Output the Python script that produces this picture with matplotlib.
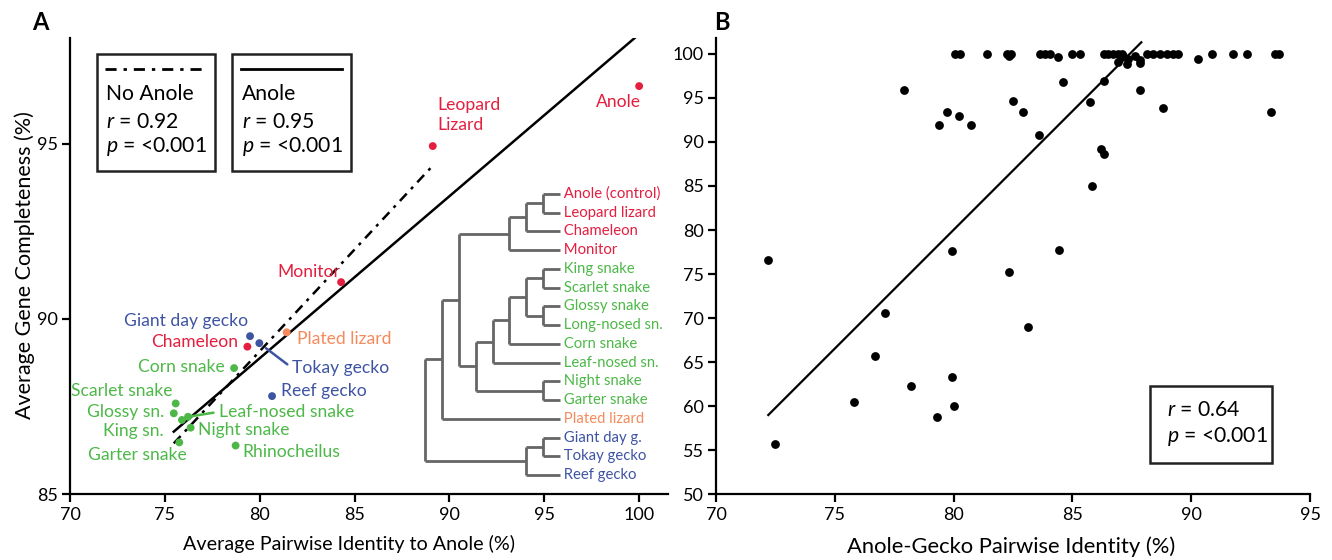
import numpy as np
import matplotlib.pyplot as plt
from matplotlib.patches import Rectangle

plt.rcParams['font.family'] = ['Lato', 'DejaVu Sans']
plt.rcParams['mathtext.fontset'] = 'custom'
plt.rcParams['mathtext.it'] = 'Lato:italic'
plt.rcParams['mathtext.rm'] = 'Lato'

RED = '#e31e3f'
GREEN = '#4db848'
BLUE = '#3e54a3'
ORANGE = '#f58a5c'
GREY = '#666666'
group_colors = {'lizard': RED, 'snake': GREEN, 'plated': ORANGE, 'gecko': BLUE}

# ---- panel A: completeness vs identity to anole
species = ['Anole', 'Leopard\nLizard', 'Monitor', 'Plated lizard', 'Giant day gecko',
           'Chameleon', 'Tokay gecko', 'Corn snake', 'Reef gecko', 'Scarlet snake',
           'Glossy sn.', 'King sn.', 'Leaf-nosed snake', 'Night snake', 'Garter snake',
           'Rhinocheilus']
identity = [100.0, 89.12, 84.29, 81.42, 79.49, 79.35, 79.98, 78.65, 80.65, 75.57,
            75.47, 75.90, 76.22, 76.36, 75.76, 78.73]
completeness = [96.64, 94.93, 91.05, 89.62, 89.51, 89.21, 89.31, 88.60, 87.80, 87.59,
                87.31, 87.12, 87.21, 86.90, 86.48, 86.39]
group = ['lizard', 'lizard', 'lizard', 'plated', 'gecko', 'lizard', 'gecko', 'snake',
         'gecko', 'snake', 'snake', 'snake', 'snake', 'snake', 'snake', 'snake']

# fitted lines (slope, intercept)
fit_anole = (0.462, 51.92)
fit_no_anole = (0.580, 42.68)

# cladogram
lizards = ((('Anole (control)', 'Leopard lizard'), 'Chameleon'), 'Monitor')
snakes = ((((('King snake', 'Scarlet snake'), ('Glossy snake', 'Long-nosed sn.')),
            'Corn snake'), 'Leaf-nosed sn.'), ('Night snake', 'Garter snake'))
geckos = (('Giant day g.', 'Tokay gecko'), 'Reef gecko')
tree = (((lizards, snakes), 'Plated lizard'), geckos)
tree_groups = {'lizard': ['Anole (control)', 'Leopard lizard', 'Chameleon', 'Monitor'],
               'plated': ['Plated lizard'],
               'gecko': ['Giant day g.', 'Tokay gecko', 'Reef gecko']}

# ---- panel B: anole-gecko identity vs completeness
gecko_identity = [72.20, 72.50, 75.80, 76.71, 77.10, 78.21, 79.32, 79.92, 79.92, 80.02,
                  82.34, 83.14, 84.43, 85.84, 77.92, 79.40, 79.71, 80.22, 80.72, 82.52,
                  82.91, 83.61, 84.62, 85.73, 86.34, 86.22, 86.34, 87.84, 88.83, 93.36,
                  80.06, 80.27, 81.40, 82.24, 82.41, 82.35, 83.64, 83.85, 84.06, 84.41,
                  84.98, 85.33, 86.31, 86.50, 86.70, 86.90, 87.10, 86.93, 87.15, 87.30,
                  87.36, 87.64, 87.84, 87.85, 88.13, 88.41, 88.69, 88.98, 89.25, 89.46,
                  90.27, 90.87, 91.78, 92.35, 93.54, 93.68]
gecko_completeness = [76.63, 55.71, 60.51, 65.73, 70.54, 62.29, 58.74, 77.65, 63.31, 60.02,
                      75.23, 68.96, 77.76, 84.96, 95.86, 91.95, 93.39, 92.97, 91.95, 94.61,
                      93.39, 90.75, 96.80, 94.50, 96.88, 89.19, 88.63, 95.89, 93.88, 93.39,
                      100, 100, 100, 100, 100, 99.7, 100, 100, 100, 99.6,
                      100, 100, 100, 100, 100, 100, 100, 99.1, 99.8, 98.8,
                      99.4, 99.8, 99.0, 99.3, 100, 100, 100, 100, 100, 100,
                      99.4, 100, 100, 100, 100, 100]
fit_gecko = (2.695, -135.58)
fit_gecko_end = 87.9

W, H = 1332, 560
fig = plt.figure(figsize=(W / 100, H / 100), dpi=100)


def px_axes(l, t, r, b):
    return fig.add_axes([l / W, 1 - b / H, (r - l) / W, (b - t) / H])


def style(ax):
    for s in ['top', 'right']:
        ax.spines[s].set_visible(False)
    for s in ['left', 'bottom']:
        ax.spines[s].set_linewidth(1.6)
    ax.tick_params(direction='out', length=6, width=1.6, labelsize=13, pad=3)


# ---------------- A
axA = px_axes(70, 38.4, 667.6, 494.3)
style(axA)
axA.set_xlim(70, 101.5)
axA.set_ylim(85, 98)
axA.set_xticks(range(70, 101, 5))
axA.set_yticks([85, 90, 95])
axA.set_xlabel('Average Pairwise Identity to Anole (%)', fontsize=14.2)
axA.xaxis.set_label_coords(0.467, -0.09)
axA.set_ylabel('Average Gene Completeness (%)', fontsize=15.5)
axA.yaxis.set_label_coords(-0.058, 0.502)

x = np.array(identity)
xs = np.array([x.min(), x.max()])
axA.plot(xs, fit_anole[0] * xs + fit_anole[1], color='black', lw=1.8)
xn = np.array([x.min(), x[1:].max()])
axA.plot(xn, fit_no_anole[0] * xn + fit_no_anole[1], color='black', lw=1.8,
         linestyle=(0, (4, 2.5, 1.2, 2.5)))

cols = [group_colors[g] for g in group]
axA.scatter(identity, completeness, s=32, c=cols, zorder=3, linewidths=0)

# label offsets in pixels: (dx, dy, ha)
offsets = {
    'Anole': (-21, -16, 'center'),
    'Leopard\nLizard': (5, 31, 'left'),
    'Monitor': (-32, 10, 'center'),
    'Plated lizard': (10, -7, 'left'),
    'Giant day gecko': (-2, 15, 'right'),
    'Chameleon': (-9, 5, 'right'),
    'Tokay gecko': (33, -25, 'left'),
    'Corn snake': (-9, 1, 'right'),
    'Reef gecko': (9, 5, 'left'),
    'Scarlet snake': (-3, 12, 'right'),
    'Glossy sn.': (-10, 1, 'right'),
    'King sn.': (-18, -11, 'right'),
    'Leaf-nosed snake': (31, 5, 'left'),
    'Night snake': (7, -2, 'left'),
    'Garter snake': (-42, -13, 'center'),
    'Rhinocheilus': (7, -6, 'left'),
}
for name, xi, yi, c in zip(species, identity, completeness, cols):
    dx, dy, ha = offsets[name]
    kw = {}
    if name in ('Tokay gecko', 'Leaf-nosed snake'):
        kw['arrowprops'] = dict(arrowstyle='-', color=c, lw=1.8, relpos=(0, 0.5),
                                shrinkA=2, shrinkB=6 if name == 'Tokay gecko' else 0)
    axA.annotate(name, (xi, yi), xytext=(dx, dy), textcoords='offset pixels',
                 ha=ha, va='center', color=c, fontsize=12.6, linespacing=1.25, **kw)

# legend boxes
for x0, label, r, ls in [(0.0447, 'No Anole', '0.92', (0, (4, 2.5, 1.2, 2.5))),
                         (0.2716, 'Anole', '0.95', '-')]:
    axA.add_patch(Rectangle((x0, 0.7098), 0.198, 0.256, transform=axA.transAxes,
                            fill=False, lw=1.8, edgecolor='#222222'))
    axA.plot([x0 + 0.014, x0 + 0.184], [0.9329, 0.9329], transform=axA.transAxes,
             color='black', lw=2, linestyle=ls)
    axA.text(x0 + 0.0155, 0.878, label, transform=axA.transAxes, fontsize=15.2, va='center')
    axA.text(x0 + 0.0155, 0.8173, '$r$ = ' + r, transform=axA.transAxes, fontsize=15.2,
             va='center')
    axA.text(x0 + 0.0155, 0.7625, '$p$ = <0.001', transform=axA.transAxes, fontsize=15.2,
             va='center')

# cladogram in its own axes
axT = px_axes(425, 194, 560, 475)
axT.axis('off')
axT.set_xlim(-8, 0)
axT.set_ylim(15, 0)
leaf_color = {}
for g, names in tree_groups.items():
    for n in names:
        leaf_color[n] = group_colors[g]
counter = [0]


def draw(node):
    if isinstance(node, str):
        y = counter[0]
        counter[0] += 1
        axT.text(0, y, ' ' + node, ha='left', va='center', fontsize=10.7,
                 color=leaf_color.get(node, GREEN), clip_on=False)
        return 0, y, 0
    kids = [draw(k) for k in node]
    h = max(k[2] for k in kids) + 1
    xnode = -h
    ys = [k[1] for k in kids]
    axT.plot([xnode, xnode], [min(ys), max(ys)], color=GREY, lw=2,
             solid_capstyle='butt', clip_on=False)
    for kx, ky, _ in kids:
        axT.plot([xnode, kx], [ky, ky], color=GREY, lw=2, solid_capstyle='butt',
                 clip_on=False)
    return xnode, (min(ys) + max(ys)) / 2, h


draw(tree)

# ---------------- B
axB = px_axes(716, 38, 1310, 494.3)
style(axB)
axB.set_xlim(70, 95)
axB.set_ylim(50, 101.8)
axB.set_xticks(range(70, 96, 5))
axB.set_yticks(range(50, 101, 5))
axB.set_xlabel('Anole-Gecko Pairwise Identity (%)', fontsize=15.8)
axB.xaxis.set_label_coords(0.497, -0.093)
axB.scatter(gecko_identity, gecko_completeness, s=40, color='black', zorder=3,
            linewidths=0)
xb = np.array([min(gecko_identity), fit_gecko_end])
axB.plot(xb, fit_gecko[0] * xb + fit_gecko[1], color='black', lw=1.6)
axB.add_patch(Rectangle((0.7306, 0.0679), 0.2049, 0.1694, transform=axB.transAxes,
                        fill=False, lw=1.8, edgecolor='#222222'))
axB.text(0.7587, 0.1847, '$r$ = 0.64', transform=axB.transAxes, fontsize=15.2, va='center')
axB.text(0.7587, 0.1262, '$p$ = <0.001', transform=axB.transAxes, fontsize=15.2,
         va='center')

fig.text(40 / W, 1 - 22 / H, 'A', fontsize=17, fontweight='bold', ha='center', va='center')
fig.text(722 / W, 1 - 22 / H, 'B', fontsize=17, fontweight='bold', ha='center', va='center')

fig.savefig('out.png', dpi=100)
